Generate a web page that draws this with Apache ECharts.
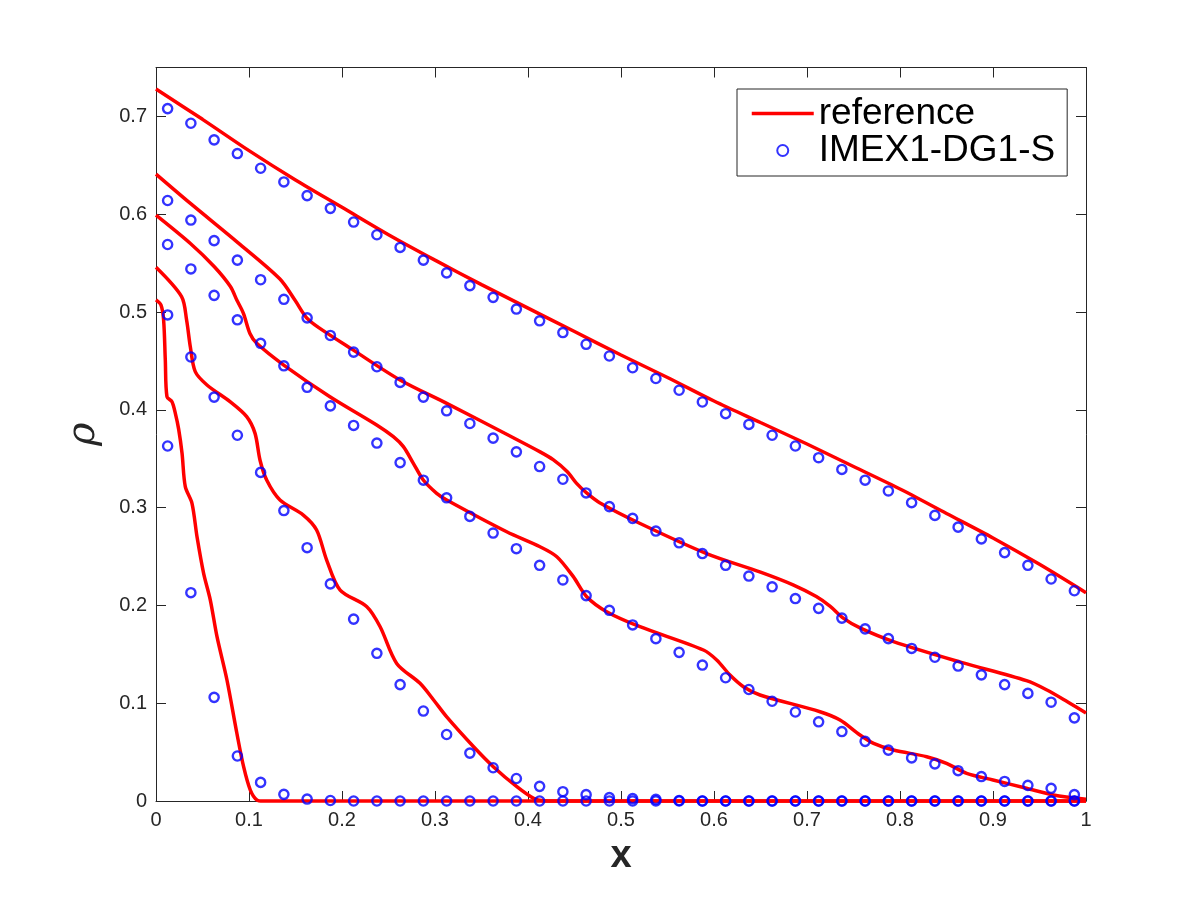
<!DOCTYPE html>
<html>
<head>
<meta charset="utf-8">
<title>rho</title>
<script src="https://cdn.jsdelivr.net/npm/echarts@6/dist/echarts.min.js"></script>
<style>
  html, body { margin: 0; padding: 0; background: #fff; }
  #chart { width: 1200px; height: 900px; }
</style>
</head>
<body>
<div id="chart"></div>
<script>
// sample locations of the numerical solution (cell centres)
var gridX = [0.0125, 0.0375, 0.0625, 0.0875, 0.1125, 0.1375, 0.1625, 0.1875, 0.2125, 0.2375,
  0.2625, 0.2875, 0.3125, 0.3375, 0.3625, 0.3875, 0.4125, 0.4375, 0.4625, 0.4875,
  0.5125, 0.5375, 0.5625, 0.5875, 0.6125, 0.6375, 0.6625, 0.6875, 0.7125, 0.7375,
  0.7625, 0.7875, 0.8125, 0.8375, 0.8625, 0.8875, 0.9125, 0.9375, 0.9625, 0.9875];

// IMEX1-DG1-S values, one array per time level
var numA = [0.708, 0.693, 0.676, 0.662, 0.647, 0.633, 0.619, 0.606, 0.592, 0.579,
  0.566, 0.553, 0.540, 0.527, 0.515, 0.503, 0.491, 0.479, 0.467, 0.455,
  0.443, 0.432, 0.420, 0.408, 0.396, 0.385, 0.374, 0.363, 0.351, 0.339,
  0.328, 0.317, 0.305, 0.292, 0.280, 0.268, 0.254, 0.241, 0.227, 0.215];
var numB = [0.614, 0.594, 0.573, 0.553, 0.533, 0.513, 0.494, 0.476, 0.459, 0.444,
  0.428, 0.413, 0.399, 0.386, 0.371, 0.357, 0.342, 0.329, 0.315, 0.301,
  0.289, 0.276, 0.264, 0.253, 0.241, 0.230, 0.219, 0.207, 0.197, 0.187,
  0.176, 0.166, 0.156, 0.147, 0.138, 0.129, 0.119, 0.110, 0.101, 0.085];
var numC = [0.569, 0.544, 0.517, 0.492, 0.468, 0.445, 0.423, 0.404, 0.384, 0.366,
  0.346, 0.328, 0.310, 0.291, 0.274, 0.258, 0.241, 0.226, 0.210, 0.195,
  0.180, 0.166, 0.152, 0.139, 0.126, 0.114, 0.102, 0.091, 0.081, 0.071,
  0.061, 0.052, 0.044, 0.038, 0.031, 0.025, 0.020, 0.016, 0.013, 0.0065];
var numD = [0.497, 0.454, 0.413, 0.374, 0.336, 0.297, 0.259, 0.222, 0.186, 0.151,
  0.119, 0.092, 0.068, 0.049, 0.034, 0.023, 0.015, 0.0095, 0.0065, 0.0034,
  0.0024, 0.0017, 0.0005, 0, 0, 0, 0, 0, 0, 0,
  0, 0, 0, 0, 0, 0, 0, 0, 0, 0];
var numE = [0.363, 0.213, 0.106, 0.046, 0.019, 0.0068, 0.002, 0.0005, 0, 0,
  0, 0, 0, 0, 0, 0, 0, 0, 0, 0,
  0, 0, 0, 0, 0, 0, 0, 0, 0, 0,
  0, 0, 0, 0, 0, 0, 0, 0, 0, 0];

// reference solution curves, [x, rho]
var refA = [[0, 0.728], [0.05, 0.697], [0.1, 0.665], [0.15, 0.635], [0.2, 0.607], [0.25, 0.579],
  [0.3, 0.553], [0.35, 0.528], [0.4, 0.504], [0.45, 0.480], [0.5, 0.456], [0.55, 0.433],
  [0.6, 0.409], [0.65, 0.387], [0.7, 0.365], [0.75, 0.342], [0.8, 0.319], [0.85, 0.294],
  [0.9, 0.269], [0.95, 0.242], [1, 0.213]];
var refB = [[0, 0.641], [0.037, 0.611], [0.088, 0.571], [0.133, 0.534], [0.1495, 0.512],
  [0.162, 0.494], [0.175, 0.484], [0.2122, 0.461], [0.2624, 0.4305], [0.3126, 0.4066],
  [0.377, 0.375], [0.413, 0.357], [0.427, 0.349], [0.442, 0.337], [0.452, 0.325],
  [0.463, 0.315], [0.477, 0.305], [0.52, 0.284], [0.592, 0.253], [0.65, 0.234],
  [0.685, 0.221], [0.71, 0.209], [0.725, 0.199], [0.739, 0.187], [0.757, 0.177],
  [0.793, 0.163], [0.865, 0.142], [0.936, 0.123], [0.958, 0.1135], [0.98, 0.1015], [1, 0.090]];
var refC = [[0, 0.599], [0.037, 0.570], [0.063, 0.546], [0.08, 0.526], [0.087, 0.512],
  [0.094, 0.4986], [0.101, 0.478], [0.1083, 0.468], [0.137, 0.446], [0.187, 0.4134],
  [0.2373, 0.3845], [0.2552, 0.3725], [0.266, 0.3623], [0.2767, 0.3453], [0.2874, 0.3282],
  [0.3018, 0.3146], [0.3126, 0.3078], [0.3771, 0.2753], [0.4129, 0.26], [0.431, 0.2498],
  [0.4487, 0.2294], [0.4631, 0.2089], [0.4846, 0.1936], [0.5204, 0.1782], [0.5886, 0.1544],
  [0.6029, 0.1442], [0.6172, 0.1288], [0.6316, 0.1169], [0.6495, 0.1084], [0.714, 0.0913],
  [0.7355, 0.0828], [0.757, 0.0675], [0.7716, 0.059], [0.793, 0.0521], [0.8287, 0.0453],
  [0.85, 0.0385], [0.8717, 0.0283], [0.9, 0.0215], [0.936, 0.013], [0.965, 0.0061],
  [1, 0.0017]];
var refD = [[0, 0.5457], [0.0275, 0.5157], [0.0329, 0.4918], [0.0369, 0.4645], [0.0422, 0.439],
  [0.0548, 0.4254], [0.0796, 0.4083], [0.0975, 0.393], [0.1065, 0.3759], [0.1118, 0.3487],
  [0.119, 0.3282], [0.1333, 0.3078], [0.1584, 0.2924], [0.1727, 0.2771], [0.1835, 0.2464],
  [0.198, 0.2157], [0.2267, 0.1987], [0.241, 0.1782], [0.2588, 0.1407], [0.2839, 0.1203],
  [0.2985, 0.1033], [0.3126, 0.086], [0.3415, 0.0555], [0.3627, 0.0351],
  [0.388, 0.0146], [0.406, 0.0027], [0.4165, 0.0003], [0.45, 0], [1, 0]];
var refE = [[0, 0.5123], [0.0054, 0.507], [0.0082, 0.4918], [0.01, 0.451], [0.0118, 0.4134],
  [0.0172, 0.4083], [0.0208, 0.3964], [0.0244, 0.38], [0.028, 0.3555], [0.0315, 0.3214],
  [0.0387, 0.3044], [0.0441, 0.2702], [0.0512, 0.2328], [0.0584, 0.2055], [0.0656, 0.168],
  [0.0763, 0.1237], [0.087, 0.069], [0.0942, 0.0351], [0.1014, 0.0112], [0.1086, 0.001],
  [0.115, 0], [1, 0]];

var xTickStep = 0.1;
var yTickStep = 0.1;

var axisColor = '#262626';
var chart = echarts.init(document.getElementById('chart'), null, { renderer: 'canvas' });

function refSeries(data) {
  return {
    name: 'reference',
    type: 'line',
    data: data,
    symbol: 'none',
    smooth: 0.3,
    clip: false,
    z: 2,
    lineStyle: { color: '#ff0000', width: 3.5 },
    itemStyle: { color: '#ff0000' }
  };
}

function numSeries(vals) {
  return {
    name: 'IMEX1-DG1-S',
    type: 'scatter',
    data: gridX.map(function (x, i) { return [x, vals[i]]; }),
    symbol: 'circle',
    symbolSize: 9.2,
    clip: false,
    z: 3,
    itemStyle: { color: 'rgba(0,0,0,0)', borderColor: '#0000ff', borderWidth: 2.4 }
  };
}

function boxAxis(pos, step, max) {
  return {
    type: 'value',
    position: pos,
    min: 0,
    max: max,
    interval: step,
    axisLine: { show: true, onZero: false, lineStyle: { color: axisColor, width: 1 } },
    axisTick: { show: true, inside: true, length: 10, lineStyle: { color: axisColor, width: 1 } },
    axisLabel: { show: false },
    splitLine: { show: false }
  };
}

var option = {
  animation: false,
  backgroundColor: '#ffffff',
  grid: { left: 156, right: 114, top: 67.5, bottom: 99, containLabel: false },
  legend: {
    left: 737,
    top: 89,
    orient: 'vertical',
    data: [
      { name: 'reference', itemStyle: { color: 'rgba(0,0,0,0)', borderWidth: 0 }, lineStyle: { color: '#ff0000', width: 3.5 } },
      { name: 'IMEX1-DG1-S' }
    ],
    selectedMode: false,
    itemWidth: 62,
    itemHeight: 11,
    itemGap: 0,
    padding: [6, 12, 7, 13],
    borderColor: axisColor,
    borderWidth: 1,
    backgroundColor: '#ffffff',
    textStyle: { fontFamily: 'Liberation Sans, Arial, sans-serif', fontSize: 37, color: '#000' }
  },
  xAxis: [
    {
      type: 'value',
      position: 'bottom',
      min: 0,
      max: 1,
      interval: xTickStep,
      name: 'x',
      nameLocation: 'middle',
      nameGap: 37,
      nameTextStyle: { fontFamily: 'Liberation Sans, Arial, sans-serif', fontSize: 38, fontWeight: 'bold', color: axisColor },
      axisLine: { show: true, onZero: false, lineStyle: { color: axisColor, width: 1 } },
      axisTick: { show: true, inside: true, length: 10, lineStyle: { color: axisColor, width: 1 } },
      axisLabel: { margin: 9, fontFamily: 'Liberation Sans, Arial, sans-serif', fontSize: 20, color: axisColor },
      splitLine: { show: false }
    },
    boxAxis('top', xTickStep, 1)
  ],
  yAxis: [
    {
      type: 'value',
      position: 'left',
      min: 0,
      max: 0.75,
      interval: yTickStep,
      name: 'ρ',
      nameLocation: 'middle',
      nameGap: 52,
      nameTextStyle: { fontFamily: 'DejaVu Serif, Liberation Serif, serif', fontStyle: 'italic', fontSize: 40, color: axisColor },
      axisLine: { show: true, onZero: false, lineStyle: { color: axisColor, width: 1 } },
      axisTick: { show: true, inside: true, length: 10, lineStyle: { color: axisColor, width: 1 } },
      axisLabel: { margin: 9, showMaxLabel: false, fontFamily: 'Liberation Sans, Arial, sans-serif', fontSize: 20, color: axisColor },
      splitLine: { show: false }
    },
    boxAxis('right', yTickStep, 0.75)
  ],
  series: [
    refSeries(refA), refSeries(refB), refSeries(refC), refSeries(refD), refSeries(refE),
    numSeries(numA), numSeries(numB), numSeries(numC), numSeries(numD), numSeries(numE)
  ]
};

chart.setOption(option);
</script>
</body>
</html>
